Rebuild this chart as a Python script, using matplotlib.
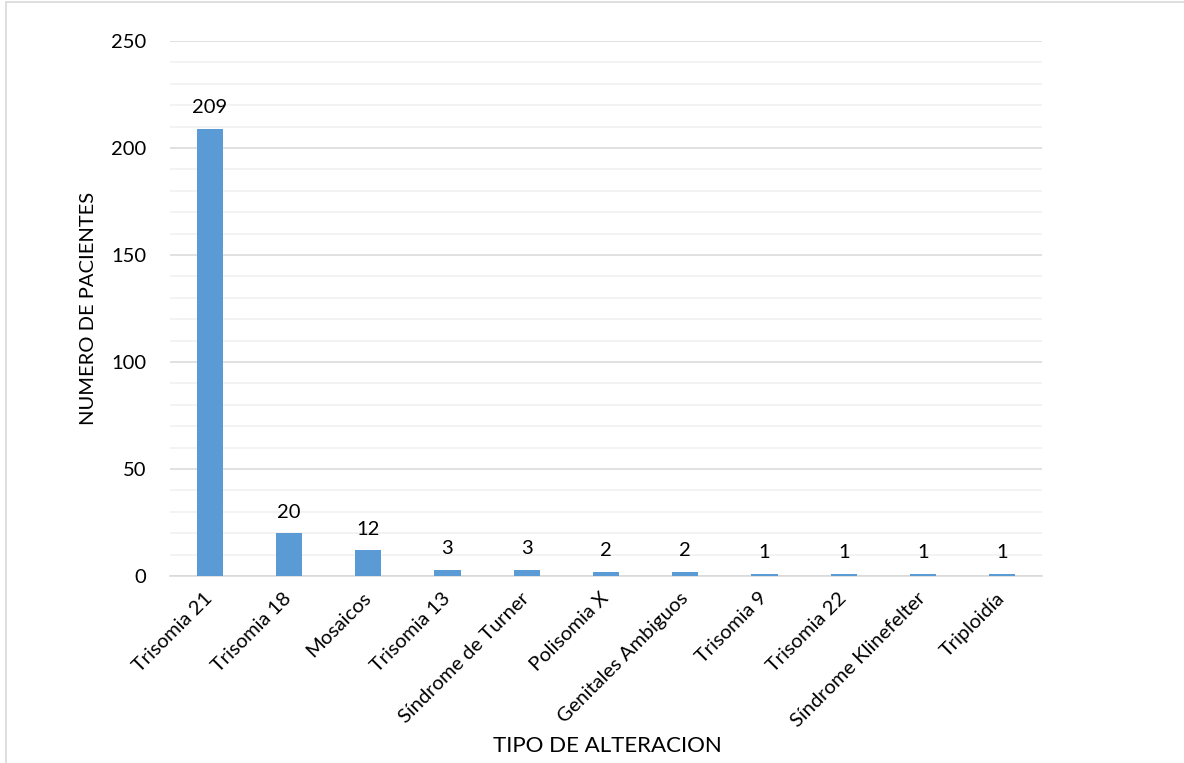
import matplotlib
matplotlib.use("Agg")
from matplotlib import pyplot as plt
from matplotlib.patches import Rectangle
from matplotlib.ticker import MultipleLocator

# Casos por tipo de alteracion
categorias = ["Trisomia 21", "Trisomia 18", "Mosaicos", "Trisomia 13",
              "Síndrome de Turner", "Polisomia X", "Genitales Ambiguos",
              "Trisomia 9", "Trisomia 22", "Síndrome Klinefelter", "Triploidía"]
pacientes = [209, 20, 12, 3, 3, 2, 2, 1, 1, 1, 1]

plt.rcParams["font.family"] = ["Lato", "DejaVu Sans"]

fig = plt.figure(figsize=(11.84, 7.63), dpi=100)
ax = fig.add_axes([0.1436, 0.2451, 0.7365, 0.7012])

x = range(len(categorias))
bars = ax.bar(x, pacientes, width=0.33, color="#5b9bd5", zorder=3)
for b, v in zip(bars, pacientes):
    ax.annotate(str(v), (b.get_x() + b.get_width() / 2, v),
                xytext=(0, 9), textcoords="offset points",
                ha="center", va="bottom", fontsize=14.5, color="#000000")

ax.set_xlim(-0.5, len(categorias) - 0.5)
ax.set_ylim(0, 250)
ax.yaxis.set_major_locator(MultipleLocator(50))
ax.yaxis.set_minor_locator(MultipleLocator(10))
ax.grid(which="major", axis="y", color="#d9d9d9", linewidth=1.1, zorder=0)
ax.grid(which="minor", axis="y", color="#f0f0f0", linewidth=1.1, zorder=0)
ax.tick_params(axis="both", which="both", length=0)
ax.tick_params(axis="y", labelsize=14.5, pad=17)
ax.set_xticks(list(x))
ax.set_xticklabels(categorias, rotation=45, ha="right", va="center",
                   rotation_mode="anchor", fontsize=14.5)
ax.tick_params(axis="x", pad=14)

for s in ["top", "right", "left"]:
    ax.spines[s].set_visible(False)
ax.spines["bottom"].set_color("#d9d9d9")
ax.spines["bottom"].set_linewidth(1.1)

fig.text(0.0745, 1 - 308 / 763, "NUMERO DE PACIENTES", rotation=90,
         ha="center", va="center", fontsize=14.5)
fig.text(0.513, 1 - 746 / 763, "TIPO DE ALTERACION",
         ha="center", va="center", fontsize=16)

# marco del grafico
fig.patches.append(Rectangle((6 / 1184, -0.01), 1.0, 1 - 1.5 / 763 + 0.01,
                             transform=fig.transFigure, fill=False,
                             edgecolor="#d9d9d9", linewidth=1.2))

fig.savefig("out.png", dpi=100)
